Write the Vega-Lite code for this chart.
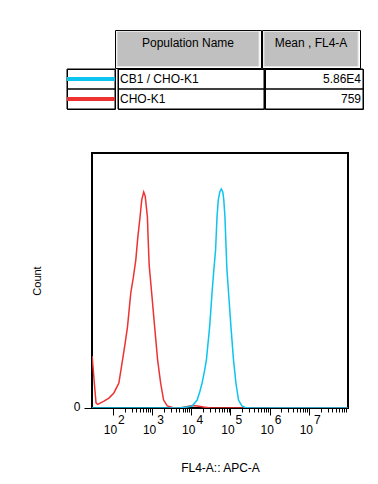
{
  "$schema": "https://vega.github.io/schema/vega-lite/v6.json",
  "padding": {"left": 30, "top": 29, "right": 5, "bottom": 5},
  "config": {
    "font": "Liberation Sans",
    "view": {"stroke": "black", "strokeWidth": 1},
    "axis": {"labelFont": "Liberation Sans", "titleFont": "Liberation Sans", "labelColor": "black", "titleColor": "black", "tickColor": "black", "grid": false, "domain": false, "titleFontWeight": "normal", "labelFontSize": 12, "titleFontSize": 12},
    "text": {"font": "Liberation Sans", "fontSize": 12, "color": "black"}
  },
  "datasets": {
    "populations": [
      {"pop": "CB1 / CHO-K1", "mean": "5.86E4"},
      {"pop": "CHO-K1", "mean": "759"}
    ],
    "hist": [
      {"pop": "CHO-K1", "intensity": 29.5, "count": 20.4},
      {"pop": "CHO-K1", "intensity": 33.9, "count": 9.0},
      {"pop": "CHO-K1", "intensity": 37.1, "count": 2.0},
      {"pop": "CHO-K1", "intensity": 40.9, "count": 1.4},
      {"pop": "CHO-K1", "intensity": 59.2, "count": 2.7},
      {"pop": "CHO-K1", "intensity": 79.1, "count": 3.9},
      {"pop": "CHO-K1", "intensity": 106, "count": 5.9},
      {"pop": "CHO-K1", "intensity": 142, "count": 9.8},
      {"pop": "CHO-K1", "intensity": 176, "count": 18.8},
      {"pop": "CHO-K1", "intensity": 202, "count": 24.7},
      {"pop": "CHO-K1", "intensity": 236, "count": 31.8},
      {"pop": "CHO-K1", "intensity": 286, "count": 45.1},
      {"pop": "CHO-K1", "intensity": 331, "count": 51.0},
      {"pop": "CHO-K1", "intensity": 384, "count": 58.0},
      {"pop": "CHO-K1", "intensity": 431, "count": 66.7},
      {"pop": "CHO-K1", "intensity": 493, "count": 74.9},
      {"pop": "CHO-K1", "intensity": 545, "count": 81.6},
      {"pop": "CHO-K1", "intensity": 612, "count": 84.7},
      {"pop": "CHO-K1", "intensity": 668, "count": 83.1},
      {"pop": "CHO-K1", "intensity": 760, "count": 74.9},
      {"pop": "CHO-K1", "intensity": 796, "count": 65.9},
      {"pop": "CHO-K1", "intensity": 843, "count": 56.1},
      {"pop": "CHO-K1", "intensity": 977, "count": 45.1},
      {"pop": "CHO-K1", "intensity": 1164, "count": 31.8},
      {"pop": "CHO-K1", "intensity": 1387, "count": 18.8},
      {"pop": "CHO-K1", "intensity": 1652, "count": 9.8},
      {"pop": "CHO-K1", "intensity": 1968, "count": 3.1},
      {"pop": "CHO-K1", "intensity": 2443, "count": 0.8},
      {"pop": "CHO-K1", "intensity": 3334, "count": 0.2},
      {"pop": "CHO-K1", "intensity": 5248, "count": 0},
      {"pop": "CHO-K1", "intensity": 8017, "count": 0.6},
      {"pop": "CHO-K1", "intensity": 10720, "count": 1.0},
      {"pop": "CHO-K1", "intensity": 14350, "count": 0.8},
      {"pop": "CHO-K1", "intensity": 20420, "count": 0.4},
      {"pop": "CHO-K1", "intensity": 30690, "count": 0},
      {"pop": "CHO-K1", "intensity": 1000000, "count": 0},
      {"pop": "CHO-K1", "intensity": 98000000, "count": 0},
      {"pop": "CB1 / CHO-K1", "intensity": 29.3, "count": 0},
      {"pop": "CB1 / CHO-K1", "intensity": 923, "count": 0},
      {"pop": "CB1 / CHO-K1", "intensity": 5321, "count": 0.1},
      {"pop": "CB1 / CHO-K1", "intensity": 7870, "count": 0.4},
      {"pop": "CB1 / CHO-K1", "intensity": 10540, "count": 0.8},
      {"pop": "CB1 / CHO-K1", "intensity": 14130, "count": 3.1},
      {"pop": "CB1 / CHO-K1", "intensity": 16440, "count": 6.3},
      {"pop": "CB1 / CHO-K1", "intensity": 18920, "count": 9.8},
      {"pop": "CB1 / CHO-K1", "intensity": 21630, "count": 14.3},
      {"pop": "CB1 / CHO-K1", "intensity": 24320, "count": 18.8},
      {"pop": "CB1 / CHO-K1", "intensity": 29440, "count": 31.8},
      {"pop": "CB1 / CHO-K1", "intensity": 33880, "count": 45.1},
      {"pop": "CB1 / CHO-K1", "intensity": 37670, "count": 54.1},
      {"pop": "CB1 / CHO-K1", "intensity": 41780, "count": 62.0},
      {"pop": "CB1 / CHO-K1", "intensity": 45390, "count": 74.9},
      {"pop": "CB1 / CHO-K1", "intensity": 48980, "count": 81.6},
      {"pop": "CB1 / CHO-K1", "intensity": 53460, "count": 84.7},
      {"pop": "CB1 / CHO-K1", "intensity": 58350, "count": 85.9},
      {"pop": "CB1 / CHO-K1", "intensity": 63830, "count": 84.7},
      {"pop": "CB1 / CHO-K1", "intensity": 67610, "count": 81.6},
      {"pop": "CB1 / CHO-K1", "intensity": 72440, "count": 74.9},
      {"pop": "CB1 / CHO-K1", "intensity": 76910, "count": 63.9},
      {"pop": "CB1 / CHO-K1", "intensity": 81470, "count": 54.1},
      {"pop": "CB1 / CHO-K1", "intensity": 89540, "count": 45.1},
      {"pop": "CB1 / CHO-K1", "intensity": 103000, "count": 31.8},
      {"pop": "CB1 / CHO-K1", "intensity": 119900, "count": 18.8},
      {"pop": "CB1 / CHO-K1", "intensity": 138000, "count": 9.8},
      {"pop": "CB1 / CHO-K1", "intensity": 160700, "count": 3.1},
      {"pop": "CB1 / CHO-K1", "intensity": 195900, "count": 0.8},
      {"pop": "CB1 / CHO-K1", "intensity": 237700, "count": 0.2},
      {"pop": "CB1 / CHO-K1", "intensity": 316200, "count": 0},
      {"pop": "CB1 / CHO-K1", "intensity": 98000000, "count": 0}
    ]
  },
  "spacing": 42,
  "vconcat": [
    {
      "spacing": -1,
      "vconcat": [
        {
          "spacing": -1,
          "hconcat": [
            {"width": 48, "height": 38, "data": {"values": [{"t": ""}]}, "mark": "text", "encoding": {"text": {"field": "t"}}},
            {
              "width": 146, "height": 38,
              "data": {"values": [{"col": "Population Name"}]},
              "layer": [
                {"mark": {"type": "rect", "fill": "#c0c0c0", "stroke": "#e6e6e6", "strokeWidth": 1},
                 "encoding": {
                   "x": {"field": "col", "type": "nominal", "axis": null, "scale": {"paddingInner": 0, "paddingOuter": 0.014}},
                   "y": {"field": "col", "type": "nominal", "axis": null, "scale": {"paddingInner": 0, "paddingOuter": 0.042}}
                 }},
                {"mark": {"type": "text", "dy": -6}, "encoding": {"text": {"field": "col"}}}
              ]
            },
            {
              "width": 98, "height": 38,
              "data": {"values": [{"col": "Mean , FL4-A"}]},
              "layer": [
                {"mark": {"type": "rect", "fill": "#c0c0c0", "stroke": "#e6e6e6", "strokeWidth": 1},
                 "encoding": {
                   "x": {"field": "col", "type": "nominal", "axis": null, "scale": {"paddingInner": 0, "paddingOuter": 0.02}},
                   "y": {"field": "col", "type": "nominal", "axis": null, "scale": {"paddingInner": 0, "paddingOuter": 0.042}}
                 }},
                {"mark": {"type": "text", "dy": -6}, "encoding": {"text": {"field": "col"}}}
              ]
            }
          ]
        },
        {
          "spacing": -1,
          "hconcat": [
            {
              "width": 48, "height": 40,
              "data": {"name": "populations"},
              "layer": [
                {"mark": {"type": "rect", "filled": false, "stroke": "black", "strokeWidth": 1},
                 "encoding": {"y": {"field": "pop", "type": "nominal", "axis": null, "sort": null, "scale": {"type": "band", "paddingInner": 0, "paddingOuter": 0}}}},
                {"mark": {"type": "rule", "strokeWidth": 4},
                 "encoding": {
                   "y": {"field": "pop", "type": "nominal", "axis": null, "sort": null, "bandPosition": 0.5, "scale": {"type": "band", "paddingInner": 0, "paddingOuter": 0}},
                   "color": {"field": "pop", "type": "nominal", "legend": null, "scale": {"domain": ["CB1 / CHO-K1", "CHO-K1"], "range": ["#0cc4f0", "#ee3232"]}}
                 }}
              ]
            },
            {
              "width": 146, "height": 40,
              "data": {"name": "populations"},
              "layer": [
                {"mark": {"type": "rect", "filled": false, "stroke": "black", "strokeWidth": 1},
                 "encoding": {"y": {"field": "pop", "type": "nominal", "axis": null, "sort": null, "scale": {"type": "band", "paddingInner": 0, "paddingOuter": 0}}}},
                {"mark": {"type": "text", "align": "left", "dx": 2},
                 "encoding": {
                   "x": {"datum": "Population Name", "type": "nominal", "axis": null, "bandPosition": 0, "scale": {"type": "band", "paddingInner": 0, "paddingOuter": 0}},
                   "y": {"field": "pop", "type": "nominal", "axis": null, "sort": null, "bandPosition": 0.5, "scale": {"type": "band", "paddingInner": 0, "paddingOuter": 0}},
                   "text": {"field": "pop"}
                 }}
              ]
            },
            {
              "width": 98, "height": 40,
              "data": {"name": "populations"},
              "layer": [
                {"mark": {"type": "rect", "filled": false, "stroke": "black", "strokeWidth": 1},
                 "encoding": {"y": {"field": "pop", "type": "nominal", "axis": null, "sort": null, "scale": {"type": "band", "paddingInner": 0, "paddingOuter": 0}}}},
                {"mark": {"type": "text", "align": "right", "dx": -2},
                 "encoding": {
                   "x": {"datum": "Mean , FL4-A", "type": "nominal", "axis": null, "bandPosition": 1, "scale": {"type": "band", "paddingInner": 0, "paddingOuter": 0}},
                   "y": {"field": "pop", "type": "nominal", "axis": null, "sort": null, "bandPosition": 0.5, "scale": {"type": "band", "paddingInner": 0, "paddingOuter": 0}},
                   "text": {"field": "mean"}
                 }}
              ]
            }
          ]
        }
      ]
    },
    {
      "spacing": -38,
      "hconcat": [
        {"width": 1, "height": 255, "view": {"stroke": null}, "data": {"values": [{"t": ""}]}, "mark": "text", "encoding": {"text": {"field": "t"}}},
        {
          "width": 256, "height": 255,
          "view": {"stroke": "black", "strokeWidth": 2},
          "data": {"name": "hist"},
          "layer": [
            {
              "transform": [{"filter": "datum.pop == 'CHO-K1'"}],
              "mark": {"type": "line", "color": "#ee3232", "strokeWidth": 1.5, "clip": true},
              "encoding": {
                "x": {"field": "intensity", "type": "quantitative",
                      "scale": {"type": "log", "domain": [29.3, 100000000], "nice": false},
                      "axis": {"orient": "bottom", "title": null, "values": [100, 1000, 10000, 100000, 1000000, 10000000],
                               "ticks": false, "labelExpr": "'' + round(log(datum.value) / LN10)", "labelOffset": 8, "labelPadding": 6,
                               "labelOverlap": false, "labelBound": false, "labelFlush": false}},
                "y": {"field": "count", "type": "quantitative", "scale": {"domain": [0, 100], "nice": false},
                      "axis": {"values": [0], "tickSize": 8, "labelPadding": 4, "labelOffset": -2, "title": "Count", "titlePadding": 31, "titleFontSize": 11}}
              }
            },
            {
              "transform": [{"filter": "datum.pop == 'CB1 / CHO-K1'"}],
              "mark": {"type": "line", "color": "#0cc4f0", "strokeWidth": 1.5, "clip": true},
              "encoding": {
                "x": {"field": "intensity", "type": "quantitative",
                      "scale": {"type": "log", "domain": [29.3, 100000000], "nice": false},
                      "axis": {"orient": "bottom", "title": "FL4-A:: APC-A", "titlePadding": 27,
                               "values": [100, 200, 300, 400, 500, 600, 700, 800, 900,
                                          1000, 2000, 3000, 4000, 5000, 6000, 7000, 8000, 9000,
                                          10000, 20000, 30000, 40000, 50000, 60000, 70000, 80000, 90000,
                                          100000, 200000, 300000, 400000, 500000, 600000, 700000, 800000, 900000,
                                          1000000, 2000000, 3000000, 4000000, 5000000, 6000000, 7000000, 8000000, 9000000,
                                          10000000, 20000000, 30000000, 40000000, 50000000, 60000000, 70000000, 80000000, 90000000],
                               "labelExpr": "indexof([100, 1000, 10000, 100000, 1000000, 10000000], datum.value) >= 0 ? '10' : ''",
                               "tickSize": {"condition": {"test": "indexof([100, 1000, 10000, 100000, 1000000, 10000000], datum.value) >= 0", "value": 7}, "value": 4},
                               "labelOffset": -3, "labelPadding": 9,
                               "labelOverlap": false, "labelBound": false, "labelFlush": false}},
                "y": {"field": "count", "type": "quantitative", "scale": {"domain": [0, 100], "nice": false},
                      "axis": {"values": [0], "tickSize": 8, "labelPadding": 4, "labelOffset": -2, "title": "Count", "titlePadding": 31, "titleFontSize": 11}}
              }
            }
          ],
          "resolve": {"axis": {"x": "independent"}}
        }
      ]
    }
  ]
}
